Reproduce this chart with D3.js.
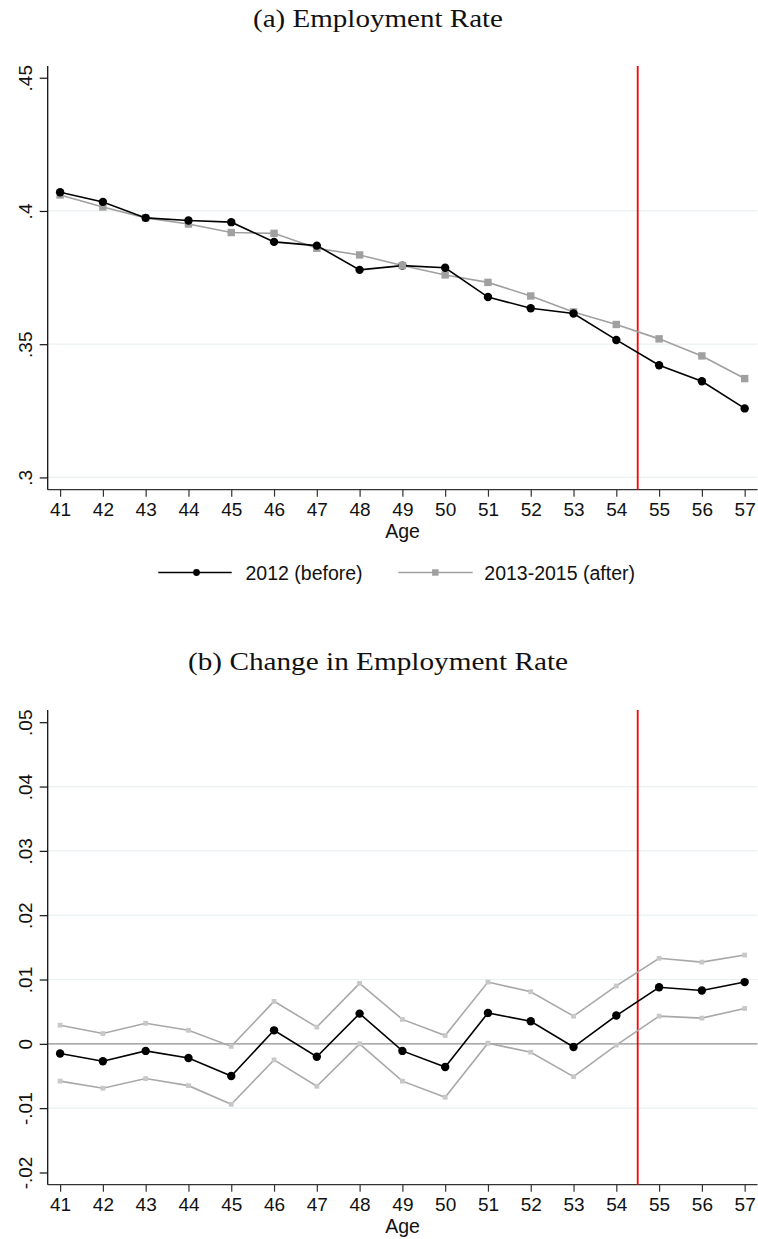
<!DOCTYPE html>
<html>
<head>
<meta charset="utf-8">
<script src="https://cdn.jsdelivr.net/npm/d3@7"></script>
<style>
  html, body { margin: 0; padding: 0; background: #fff; }
  svg { display: block; }
  .tick text { font-family: "Liberation Sans", Arial, sans-serif; font-size: 19px; fill: #111; }
</style>
</head>
<body>
<svg id="chart" width="758" height="1239"></svg>
<script>
// Ages on the horizontal axis
const ages = [41, 42, 43, 44, 45, 46, 47, 48, 49, 50, 51, 52, 53, 54, 55, 56, 57];

// Panel (a): employment rate by age
const rateBefore = [0.4070, 0.4034, 0.3974, 0.3964, 0.3958, 0.3884, 0.3870, 0.3779, 0.3795,
                    0.3787, 0.3677, 0.3635, 0.3615, 0.3516, 0.3421, 0.3361, 0.3259];
const rateAfter  = [0.4060, 0.4015, 0.3974, 0.3951, 0.3919, 0.3916, 0.3860, 0.3835, 0.3795,
                    0.3760, 0.3732, 0.3681, 0.3621, 0.3574, 0.3520, 0.3456, 0.3371];
const rateTicks = [0.3, 0.35, 0.4, 0.45];
const rateTickLabels = [".3", ".35", ".4", ".45"];
const rateGrid = [0.3, 0.35, 0.4];

// Panel (b): change in employment rate with 95% bounds
const change   = [-0.0015, -0.0027, -0.0011, -0.0022, -0.0050, 0.0021, -0.0020, 0.0047, -0.0011,
                  -0.0036, 0.0048, 0.0035, -0.0005, 0.0044, 0.0088, 0.0083, 0.0096];
const changeHi = [0.0029, 0.0016, 0.0032, 0.0021, -0.0004, 0.0066, 0.0026, 0.0094, 0.0038,
                  0.0013, 0.0096, 0.0081, 0.0043, 0.0090, 0.0133, 0.0127, 0.0138];
const changeLo = [-0.0058, -0.0069, -0.0054, -0.0065, -0.0094, -0.0025, -0.0066, -0.0000, -0.0058,
                  -0.0083, 0.0001, -0.0013, -0.0051, -0.0002, 0.0043, 0.0040, 0.0055];
const changeTicks = [-0.02, -0.01, 0, 0.01, 0.02, 0.03, 0.04, 0.05];
const changeTickLabels = ["-.02", "-.01", "0", ".01", ".02", ".03", ".04", ".05"];
const changeGrid = [-0.01, 0.01, 0.02, 0.03, 0.04];

// Reform cut-off between ages 54 and 55
const cutoffAge = 54.5;

const legendLabels = ["2012 (before)", "2013-2015 (after)"];
const titles = ["(a) Employment Rate", "(b) Change in Employment Rate"];

const svg = d3.select("#chart");
const sans = '"Liberation Sans", Arial, sans-serif';
const serif = '"Liberation Serif", "Times New Roman", serif';

const plotLeft = 47.7, plotRight = 757.5;
const x = d3.scaleLinear().domain([40.71, 57.3]).range([plotLeft, plotRight]);

function panel(cfg) {
  const y = d3.scaleLinear().domain(cfg.domain).range([cfg.bottom, cfg.top]);
  const g = svg.append("g");

  // title
  svg.append("text")
    .attr("x", 378).attr("y", cfg.titleY)
    .attr("text-anchor", "middle")
    .attr("font-family", serif).attr("font-size", 24.5)
    .attr("textLength", cfg.titleLen).attr("lengthAdjust", "spacingAndGlyphs")
    .attr("fill", "#111")
    .text(cfg.title);

  // gridlines
  g.selectAll("line.grid").data(cfg.grid).join("line")
    .attr("class", "grid")
    .attr("x1", plotLeft).attr("x2", plotRight)
    .attr("y1", d => y(d)).attr("y2", d => y(d))
    .attr("stroke", "#e9f1f3").attr("stroke-width", 1.2);

  if (cfg.zeroLine) {
    g.append("line")
      .attr("x1", plotLeft).attr("x2", plotRight)
      .attr("y1", y(0)).attr("y2", y(0))
      .attr("stroke", "#8f8f8f").attr("stroke-width", 1.4);
  }

  // y axis
  const yAxis = g.append("g")
    .attr("transform", `translate(${plotLeft},0)`)
    .call(d3.axisLeft(y).tickValues(cfg.ticks).tickSize(8)
      .tickFormat((d, i) => cfg.tickLabels[i]).tickSizeOuter(0));
  yAxis.select(".domain").attr("stroke", "#111").attr("stroke-width", 1.3)
    .attr("d", `M0,${cfg.top}V${cfg.bottom}`);
  yAxis.selectAll(".tick line").attr("stroke", "#111").attr("stroke-width", 1.2);
  yAxis.selectAll(".tick text")
    .attr("x", null).attr("dy", null)
    .attr("text-anchor", "middle")
    .attr("transform", "translate(-16,0) rotate(-90)");

  // x axis
  const xAxis = g.append("g")
    .attr("transform", `translate(0,${cfg.bottom})`)
    .call(d3.axisBottom(x).tickValues(ages).tickSize(7).tickSizeOuter(0).tickFormat(d3.format("d")));
  xAxis.select(".domain").attr("stroke", "#333").attr("stroke-width", 1.3)
    .attr("d", `M${plotLeft},0H${plotRight}`);
  xAxis.selectAll(".tick line").attr("stroke", "#333").attr("stroke-width", 1.2);
  xAxis.selectAll(".tick text").attr("y", 26).attr("dy", null);

  g.append("text")
    .attr("x", (plotLeft + plotRight) / 2).attr("y", cfg.bottom + 48)
    .attr("text-anchor", "middle")
    .attr("font-family", sans).attr("font-size", 19.5).attr("fill", "#111")
    .text("Age");

  // cut-off line
  g.append("line")
    .attr("x1", x(cutoffAge)).attr("x2", x(cutoffAge))
    .attr("y1", cfg.top).attr("y2", cfg.bottom)
    .attr("stroke", "#ff0000").attr("stroke-width", 1.8);

  return { g, y };
}

const line = (y, vals) => d3.line().x((d, i) => x(ages[i])).y(d => y(d))(vals);

// Panel (a)
{
  const { g, y } = panel({
    title: titles[0], titleY: 27, titleLen: 250,
    domain: [0.2954, 0.4544], top: 66, bottom: 489.7,
    ticks: rateTicks, tickLabels: rateTickLabels, grid: rateGrid
  });

  g.append("path").attr("d", line(y, rateAfter))
    .attr("fill", "none").attr("stroke", "#a0a0a0").attr("stroke-width", 1.6);
  g.selectAll("rect.after").data(rateAfter).join("rect")
    .attr("class", "after")
    .attr("x", (d, i) => x(ages[i]) - 3.7).attr("y", d => y(d) - 3.7)
    .attr("width", 7.4).attr("height", 7.4).attr("fill", "#a0a0a0");

  g.append("path").attr("d", line(y, rateBefore))
    .attr("fill", "none").attr("stroke", "#000").attr("stroke-width", 1.6);
  g.selectAll("circle.before").data(rateBefore).join("circle")
    .attr("class", "before")
    .attr("cx", (d, i) => x(ages[i])).attr("cy", d => y(d))
    .attr("r", 4.2).attr("fill", "#000");

  // the 2012 marker at 49 sits under the later-period square
  g.selectAll("rect.after")
    .filter((d, i) => ages[i] === 49)
    .raise();

  // legend
  const ly = 572.5;
  const leg = svg.append("g");
  leg.append("line").attr("x1", 158.3).attr("x2", 231.7).attr("y1", ly).attr("y2", ly)
    .attr("stroke", "#000").attr("stroke-width", 1.6);
  leg.append("circle").attr("cx", 196.5).attr("cy", ly).attr("r", 3.4).attr("fill", "#000");
  leg.append("text").attr("x", 245.5).attr("y", ly + 7.5)
    .attr("font-family", sans).attr("font-size", 19.5).attr("fill", "#111").text(legendLabels[0]);
  leg.append("line").attr("x1", 398.3).attr("x2", 472.7).attr("y1", ly).attr("y2", ly)
    .attr("stroke", "#a0a0a0").attr("stroke-width", 1.6);
  leg.append("rect").attr("x", 435.3 - 3.2).attr("y", ly - 3.2).attr("width", 6.4).attr("height", 6.4)
    .attr("fill", "#a0a0a0");
  leg.append("text").attr("x", 484.3).attr("y", ly + 7.5)
    .attr("font-family", sans).attr("font-size", 19.5).attr("fill", "#111").text(legendLabels[1]);
}

// Panel (b)
{
  const { g, y } = panel({
    title: titles[1], titleY: 670, titleLen: 380,
    domain: [-0.0219, 0.0519], top: 710, bottom: 1184.7,
    ticks: changeTicks, tickLabels: changeTickLabels, grid: changeGrid, zeroLine: true
  });

  [changeHi, changeLo].forEach(vals => {
    g.append("path").attr("d", line(y, vals))
      .attr("fill", "none").attr("stroke", "#a8a8a8").attr("stroke-width", 1.6);
    g.append("g").selectAll("rect").data(vals).join("rect")
      .attr("x", (d, i) => x(ages[i]) - 2.4).attr("y", d => y(d) - 2.4)
      .attr("width", 4.8).attr("height", 4.8).attr("fill", "#c8c8c8");
  });

  g.append("path").attr("d", line(y, change))
    .attr("fill", "none").attr("stroke", "#000").attr("stroke-width", 1.6);
  g.selectAll("circle.change").data(change).join("circle")
    .attr("class", "change")
    .attr("cx", (d, i) => x(ages[i])).attr("cy", d => y(d))
    .attr("r", 4.2).attr("fill", "#000");
}
</script>
</body>
</html>
